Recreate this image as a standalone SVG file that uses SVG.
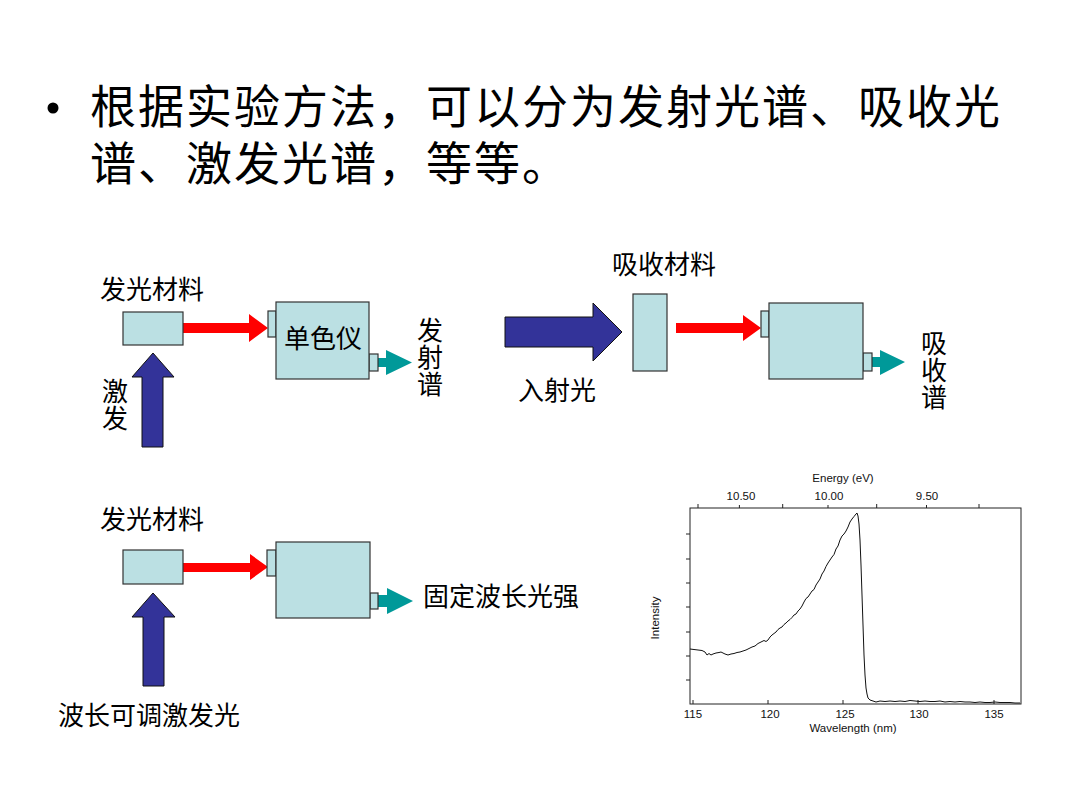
<svg xmlns="http://www.w3.org/2000/svg" width="1080" height="810" viewBox="0 0 1080 810">
<style>
.title{font-family:"Noto Sans CJK SC","Noto Sans",sans-serif;font-size:46px;fill:#000;letter-spacing:2px}
.lbl{font-family:"Noto Sans CJK SC","Noto Sans",sans-serif;font-size:26px;fill:#000}
.vlbl{font-family:"Noto Sans CJK SC","Noto Sans",sans-serif;font-size:26px;fill:#000;writing-mode:vertical-rl;letter-spacing:1px}
.box{fill:#BBE0E3;stroke:#333;stroke-width:1.2}
.red{fill:#FF0000}
.blue{fill:#333399;stroke:#111;stroke-width:1}
.teal{fill:#009999}
.ax{font-family:"Liberation Sans",Arial,sans-serif;font-size:11.5px;fill:#111}
.frame{fill:none;stroke:#222;stroke-width:1}
.tick{stroke:#222;stroke-width:1}
</style>
<rect width="1080" height="810" fill="#fff"/>

<g id="title">
<circle cx="53" cy="108" r="5.5" fill="#000"/>
<text class="title"><tspan x="90" y="123">根据实验方法，可以分为发射光谱、吸收光</tspan><tspan x="90" y="180">谱、激发光谱，等等。</tspan></text>
</g>

<g id="connectors">
<polygon class="red" points="183,323 249,323 249,314 268,328 249,342 249,333 183,333"/>
<polygon class="blue" points="142,447 142,377 132,377 153,353 174,377 163,377 163,447"/>
<polygon class="teal" points="378,358 386,358 386,350 412,362.5 386,375 386,367 378,367"/>
<polygon class="blue" points="505,317 593,317 593,303 622,332 593,361 593,347 505,347"/>
<polygon class="red" points="676,323 743,323 743,315 761,328 743,341 743,333 676,333"/>
<polygon class="teal" points="872,357 880,357 880,350 905,362 880,375 880,367 872,367"/>
<polygon class="red" points="183,563 250,563 250,554 268,567 250,580 250,572 183,572"/>
<polygon class="blue" points="143,686 143,617 132,617 153,593 175,617 164,617 164,686"/>
<polygon class="teal" points="378,595 387,595 387,588 413,601 387,614 387,607 378,607"/>
</g>

<g id="emission-material">
<rect class="box" x="123" y="312" width="60" height="33"/>
<text class="lbl" x="100" y="299">发光材料</text>
</g>
<g id="excitation-label">
<text class="vlbl" x="115" y="378">激发</text>
</g>
<g id="monochromator-1">
<rect class="box" x="268" y="311" width="8" height="26"/>
<rect class="box" x="369" y="354" width="9" height="17"/>
<rect class="box" x="276" y="302" width="93" height="77"/>
<text class="lbl" x="284" y="348">单色仪</text>
</g>
<g id="emission-spectrum-label">
<text class="vlbl" x="430" y="317">发射谱</text>
</g>

<g id="incident-light-label">
<text class="lbl" x="518" y="400">入射光</text>
</g>
<g id="absorption-material">
<rect class="box" x="633" y="294" width="34" height="77"/>
<text class="lbl" x="612" y="274">吸收材料</text>
</g>
<g id="monochromator-2">
<rect class="box" x="761" y="311" width="8" height="26"/>
<rect class="box" x="863" y="353" width="9" height="18"/>
<rect class="box" x="769" y="303" width="94" height="76"/>
</g>
<g id="absorption-spectrum-label">
<text class="vlbl" x="934" y="330">吸收谱</text>
</g>

<g id="emission-material-2">
<rect class="box" x="123" y="550" width="60" height="34"/>
<text class="lbl" x="100" y="529">发光材料</text>
</g>
<g id="tunable-excitation-label">
<text class="lbl" x="58" y="725">波长可调激发光</text>
</g>
<g id="monochromator-3">
<rect class="box" x="267" y="550" width="9" height="26"/>
<rect class="box" x="370" y="593" width="8" height="16"/>
<rect class="box" x="276" y="542" width="94" height="76"/>
</g>
<g id="fixed-wavelength-label">
<text class="lbl" x="423" y="606">固定波长光强</text>
</g>

<g id="spectrum-chart">
<rect class="frame" x="690" y="508" width="331" height="196"/>
<g class="tick">
<line x1="698" y1="508" x2="698" y2="504"/>
<line x1="739.4" y1="508" x2="739.4" y2="505"/>
<line x1="782.7" y1="508" x2="782.7" y2="504"/>
<line x1="828" y1="508" x2="828" y2="505"/>
<line x1="876.7" y1="508" x2="876.7" y2="504"/>
<line x1="926.5" y1="508" x2="926.5" y2="505"/>
<line x1="979" y1="508" x2="979" y2="504"/>
<line x1="693" y1="704" x2="693" y2="700"/>
<line x1="768" y1="704" x2="768" y2="700"/>
<line x1="843" y1="704" x2="843" y2="700"/>
<line x1="918" y1="704" x2="918" y2="700"/>
<line x1="994" y1="704" x2="994" y2="700"/>
<line x1="686" y1="534" x2="690" y2="534"/>
<line x1="686" y1="559" x2="690" y2="559"/>
<line x1="686" y1="583" x2="690" y2="583"/>
<line x1="686" y1="607" x2="690" y2="607"/>
<line x1="686" y1="632" x2="690" y2="632"/>
<line x1="686" y1="656" x2="690" y2="656"/>
<line x1="686" y1="680" x2="690" y2="680"/>
</g>
<text class="ax" x="843" y="482" text-anchor="middle">Energy (eV)</text>
<text class="ax" x="741" y="500" text-anchor="middle">10.50</text>
<text class="ax" x="829" y="500" text-anchor="middle">10.00</text>
<text class="ax" x="927" y="500" text-anchor="middle">9.50</text>
<text class="ax" x="693" y="718" text-anchor="middle">115</text>
<text class="ax" x="770" y="718" text-anchor="middle">120</text>
<text class="ax" x="845" y="718" text-anchor="middle">125</text>
<text class="ax" x="919" y="718" text-anchor="middle">130</text>
<text class="ax" x="994" y="718" text-anchor="middle">135</text>
<text class="ax" x="853" y="732" text-anchor="middle">Wavelength (nm)</text>
<text class="ax" x="0" y="0" text-anchor="middle" transform="translate(659,618) rotate(-90)">Intensity</text>
<polyline fill="none" stroke="#111" stroke-width="1" points="690,649 694,649.5 698,650 702,650.5 705,652 707,655 709,653.5 711,655 713,654 716,653 719,652.5 721,652 723,653 725,654 728,655 731,654 734,653.5 737,652.5 740,652 743,651 746,650 749,648.5 752,647 755,646 758,643.5 761,642 764,640.5 766,641.5 768,640 770,637 772,635 774,633.5 776,632 778,629.5 780,628 782,627 784,624.5 786,623 788,621 790,619.5 792,617.5 794,615 796,614 798,611 800,609 802,606 804,602 806,598.5 808,597 810,594 812,591 814,589.5 816,585 818,582 820,579 822,574 824,571 826,566.5 828,563 830,560 832,557 834,554.5 836,549 838,546 840,540 842,536 844,534 846,531 848,527 850,522 852,519 854,516.5 856,514 857,513 858,516 859,524 860,540 861,565 862,595 863,625 864,655 865,675 866,688 867,694 868,698 870,700 873,701 876,702 880,701 885,701.5 890,701 895,701.5 900,701 905,701.5 910,700.5 915,701 920,701.5 925,701 930,701.5 935,701.5 940,701 945,702 950,701.5 955,702 960,701.5 965,702 970,702 975,702.5 980,702 985,702.5 990,702.5 995,702 1000,702.5 1005,702.5 1010,702.5 1015,703 1020,703"/>
</g>
</svg>
